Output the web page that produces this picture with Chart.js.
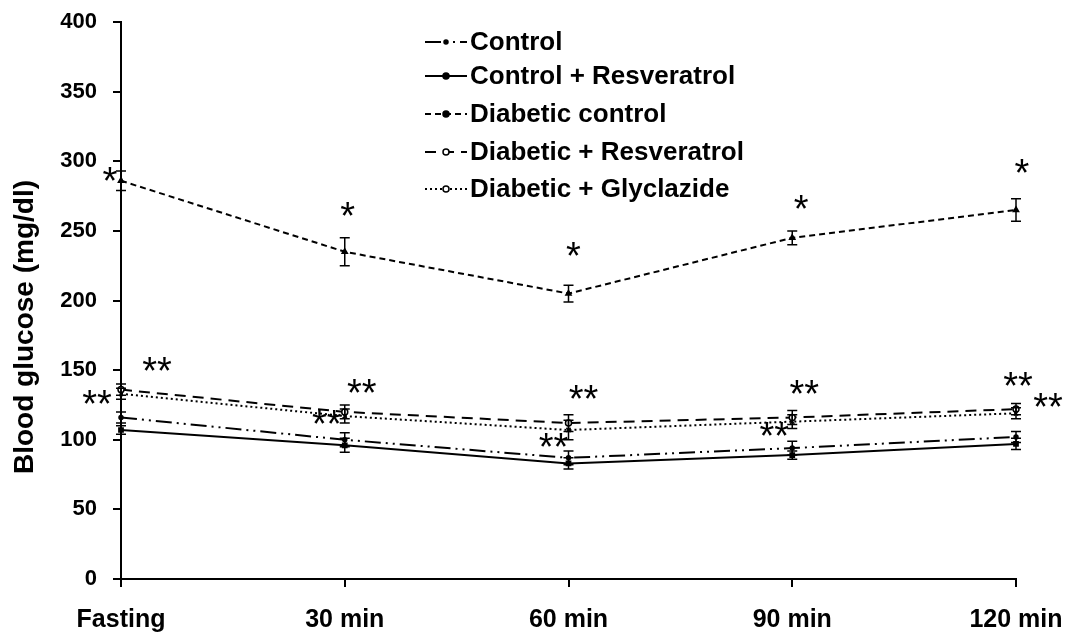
<!DOCTYPE html>
<html>
<head>
<meta charset="utf-8">
<script src="https://cdn.jsdelivr.net/npm/chart.js@4.4.1/dist/chart.umd.min.js"></script>
<style>
  html, body { margin: 0; padding: 0; background: #fff; }
  #wrap { width: 1072px; height: 636px; }
</style>
</head>
<body>
<div id="wrap"><canvas id="glucoseChart" width="1072" height="636"></canvas></div>
<script>
const categories = ['Fasting', '30 min', '60 min', '90 min', '120 min'];
const yTicks = [0, 50, 100, 150, 200, 250, 300, 350, 400];
const yTitle = 'Blood glucose (mg/dl)';

const control = [116, 100, 87, 94, 102];
const controlErr = [4, 5, 5, 5, 4];
const controlResv = [107, 96, 83, 89, 97];
const controlResvErr = [3, 5, 4, 3, 4];
const diabetic = [286, 235, 205, 245, 265];
const diabeticErr = [7, 10, 6, 5, 8];
const diabeticResv = [136, 120, 112, 116, 122];
const diabeticResvErr = [4, 5, 6, 5, 4];
const diabeticGly = [133, 117, 107, 113, 119];
const diabeticGlyErr = [4, 5, 7, 5, 4];

// significance marks: category index, value at glyph centre, pixel nudge
const starText = ['*', '*', '*', '*', '*', '**', '**', '**', '**', '**', '**', '**', '**', '**', '**'];
const starCat = [0, 1, 2, 3, 4, 0, 1, 2, 3, 4, 0, 1, 2, 3, 4];
const starVal = [288, 263, 234, 268, 294, 152, 136, 132, 135, 141, 128, 114, 97, 105, 126];
const starDx = [-11, 3, 5, 9, 6, 36, 17, 15, 12, 2, -24, -18, -15, -18, 32];

const FONT = "'Liberation Sans', Arial, sans-serif";
const STAR_SIZE = 38;

function series(label, data, err, dash, style, radius, fill) {
  return {
    label, data, err,
    borderColor: '#000',
    borderWidth: 2,
    borderDash: dash,
    pointStyle: style,
    pointRadius: radius,
    pointBorderWidth: 1.5,
    pointBackgroundColor: fill,
    pointBorderColor: '#000',
    fill: false,
    tension: 0
  };
}

const datasets = [
  series('Control', control, controlErr, [16, 5, 2, 5, 2, 5], 'circle', 2, '#000'),
  series('Control + Resveratrol', controlResv, controlResvErr, [], 'rect', 3, '#000'),
  series('Diabetic control', diabetic, diabeticErr, [6, 4], 'triangle', 3, '#000'),
  series('Diabetic + Resveratrol', diabeticResv, diabeticResvErr, [11, 7], 'circle', 3, '#fff'),
  series('Diabetic + Glyclazide', diabeticGly, diabeticGlyErr, [2, 3], 'crossRot', 3, '#fff')
];

const errorBars = {
  id: 'errorBars',
  afterDatasetsDraw(chart) {
    const { ctx, scales: { x, y } } = chart;
    ctx.save();
    ctx.strokeStyle = '#000';
    ctx.lineWidth = 1.5;
    ctx.setLineDash([]);
    chart.data.datasets.forEach(ds => {
      ds.data.forEach((v, i) => {
        const px = x.getPixelForValue(i);
        const top = y.getPixelForValue(v + ds.err[i]);
        const bot = y.getPixelForValue(v - ds.err[i]);
        ctx.beginPath();
        ctx.moveTo(px, top); ctx.lineTo(px, bot);
        ctx.moveTo(px - 5, top); ctx.lineTo(px + 5, top);
        ctx.moveTo(px - 5, bot); ctx.lineTo(px + 5, bot);
        ctx.stroke();
      });
    });
    // asterisks
    ctx.fillStyle = '#000';
    ctx.font = STAR_SIZE + 'px ' + FONT;
    ctx.textAlign = 'center';
    ctx.textBaseline = 'alphabetic';
    starText.forEach((t, k) => {
      const px = x.getPixelForValue(starCat[k]) + starDx[k];
      const py = y.getPixelForValue(starVal[k]) + STAR_SIZE * 0.43;
      ctx.fillText(t, px, py);
    });
    ctx.restore();
  }
};

const seriesKey = {
  id: 'seriesKey',
  afterDraw(chart) {
    const { ctx } = chart;
    const rows = [42, 76, 114, 152, 189];
    ctx.save();
    ctx.font = 'bold 26px ' + FONT;
    ctx.textBaseline = 'middle';
    ctx.textAlign = 'left';
    chart.data.datasets.forEach((ds, i) => {
      const yy = rows[i];
      ctx.strokeStyle = '#000';
      ctx.lineWidth = 2;
      ctx.setLineDash(ds.borderDash);
      ctx.beginPath();
      ctx.moveTo(425, yy); ctx.lineTo(467, yy);
      ctx.stroke();
      ctx.setLineDash([]);
      ctx.lineWidth = 1.5;
      ctx.fillStyle = ds.pointBackgroundColor;
      ctx.beginPath();
      ctx.arc(446, yy, ds.pointRadius, 0, Math.PI * 2);
      ctx.fill(); ctx.stroke();
      ctx.fillStyle = '#000';
      ctx.fillText(ds.label, 470, yy + 1);
    });
    // y axis title
    ctx.translate(25, 327);
    ctx.rotate(-Math.PI / 2);
    ctx.textAlign = 'center';
    ctx.font = 'bold 28px ' + FONT;
    ctx.fillText(yTitle, 0, 0);
    ctx.restore();
  }
};

new Chart(document.getElementById('glucoseChart'), {
  type: 'line',
  data: { labels: categories, datasets },
  plugins: [errorBars, seriesKey],
  options: {
    responsive: false,
    animation: false,
    layout: { padding: { left: 6, right: 56, top: 22, bottom: 4 } },
    plugins: { legend: { display: false }, tooltip: { enabled: false } },
    scales: {
      x: {
        offset: false,
        afterFit(s) { s.height = 636 - 579 - 4; s.paddingLeft = 0; s.paddingRight = 0; },
        grid: { display: true, drawOnChartArea: false, drawTicks: true, tickLength: 8, color: '#000', lineWidth: 2 },
        border: { color: '#000', width: 2 },
        ticks: { color: '#000', font: { family: FONT, size: 25, weight: 'bold' }, padding: 18, maxRotation: 0 }
      },
      y: {
        min: 0, max: 400,
        afterBuildTicks(s) { s.ticks = yTicks.map(v => ({ value: v })); },
        afterFit(s) { s.width = 121 - 6; s.paddingTop = 0; s.paddingBottom = 0; },
        grid: { display: true, drawOnChartArea: false, drawTicks: true, tickLength: 8, color: '#000', lineWidth: 2 },
        border: { color: '#000', width: 2 },
        ticks: { color: '#000', font: { family: FONT, size: 22, weight: 'bold' }, padding: 16 }
      }
    }
  }
});
</script>
</body>
</html>
